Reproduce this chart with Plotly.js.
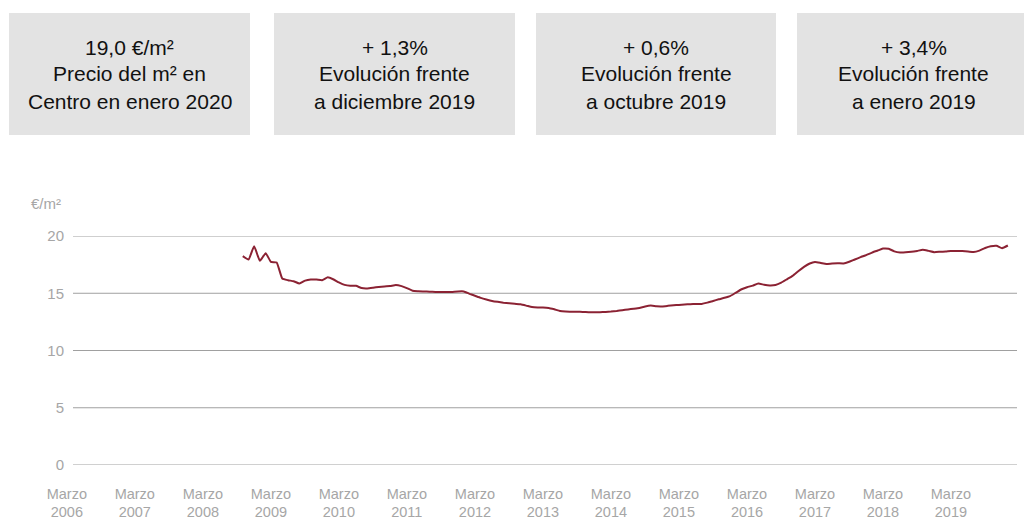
<!DOCTYPE html>
<html>
<head>
<meta charset="utf-8">
<script src="https://cdn.plot.ly/plotly-3.0.1.min.js"></script>
<style>
html,body{margin:0;padding:0;background:#fff;}
#chart{width:1024px;height:521px;}
</style>
</head>
<body>
<div id="chart"></div>
<script>
// ---- DATA ----
const firstMonth = '2008-10'; // first monthly observation
const price2008 = [18.24, 17.95, 19.10];
const price2009 = [17.83, 18.50, 17.74, 17.69, 16.29, 16.14, 16.05, 15.85, 16.10, 16.20, 16.20, 16.14];
const price2010 = [16.40, 16.20, 15.95, 15.73, 15.65, 15.65, 15.45, 15.42, 15.48, 15.55, 15.60, 15.63];
const price2011 = [15.72, 15.62, 15.45, 15.22, 15.18, 15.16, 15.14, 15.12, 15.10, 15.10, 15.12, 15.16];
const price2012 = [15.16, 14.95, 14.78, 14.60, 14.46, 14.33, 14.25, 14.18, 14.13, 14.08, 14.03, 13.92];
const price2013 = [13.79, 13.76, 13.76, 13.72, 13.60, 13.45, 13.40, 13.39, 13.38, 13.37, 13.35, 13.35];
const price2014 = [13.35, 13.37, 13.40, 13.45, 13.52, 13.59, 13.65, 13.72, 13.85, 13.92, 13.86, 13.85];
const price2015 = [13.90, 13.95, 13.98, 14.02, 14.05, 14.06, 14.07, 14.18, 14.33, 14.47, 14.60, 14.75];
const price2016 = [15.05, 15.35, 15.52, 15.67, 15.85, 15.74, 15.68, 15.72, 15.93, 16.22, 16.52, 16.92];
const price2017 = [17.30, 17.60, 17.74, 17.65, 17.55, 17.60, 17.62, 17.60, 17.75, 17.95, 18.15, 18.33];
const price2018 = [18.55, 18.73, 18.90, 18.88, 18.66, 18.56, 18.57, 18.62, 18.70, 18.79, 18.70, 18.59];
const price2019 = [18.62, 18.65, 18.69, 18.70, 18.68, 18.65, 18.60, 18.72, 18.95, 19.10, 19.14, 18.94];
const price2020 = [19.17];

const tickYears = ['2006','2007','2008','2009','2010','2011','2012','2013','2014','2015','2016','2017','2018','2019'];
const tickMonthLabel = 'Marzo';
const yTicks = [0, 5, 10, 15, 20];
const yUnit = '€/m²';

const kpiBoxes = [
  ['19,0 €/m²', 'Precio del m² en', 'Centro en enero 2020'],
  ['+ 1,3%', 'Evolución frente', 'a diciembre 2019'],
  ['+ 0,6%', 'Evolución frente', 'a octubre 2019'],
  ['+ 3,4%', 'Evolución frente', 'a enero 2019']
];

// ---- BUILD SERIES ----
const price = [].concat(price2008, price2009, price2010, price2011, price2012, price2013,
  price2014, price2015, price2016, price2017, price2018, price2019, price2020);
const dates = [];
{
  let [yy, mm] = firstMonth.split('-').map(Number);
  for (let i = 0; i < price.length; i++) {
    dates.push(yy + '-' + String(mm).padStart(2, '0') + '-01');
    mm++; if (mm > 12) { mm = 1; yy++; }
  }
}

// ---- LAYOUT HELPERS (pixel -> paper) ----
const W = 1024, H = 521;
const ML = 40, MR = 7, MT = 236, MB = 56;
const PW = W - ML - MR, PH = H - MT - MB;
const px = x => (x - ML) / PW;
const py = y => (H - MB - y) / PH;

const FONT = 'Liberation Sans, Arial, Helvetica, sans-serif';
const GRAY = '#a6a6a6';

const shapes = [];
const annotations = [];

// gridlines
yTicks.forEach(v => {
  shapes.push({type: 'line', xref: 'paper', yref: 'y', x0: px(73), x1: 1, y0: v, y1: v,
    line: {color: '#a0a0a0', width: 1}, layer: 'below'});
});

// KPI boxes
const boxX = [[9, 250], [274, 515], [536, 776], [797, 1030]];
kpiBoxes.forEach((lines, i) => {
  const [x0, x1] = boxX[i];
  shapes.push({type: 'rect', xref: 'paper', yref: 'paper', x0: px(x0), x1: px(x1), y0: py(135), y1: py(13),
    fillcolor: '#e3e3e3', line: {width: 0}, layer: 'below'});
  const cx = (x0 + x1) / 2;
  const lineY = [47, 74, 101];
  lines.forEach((t, j) => {
    annotations.push({xref: 'paper', yref: 'paper', x: px(cx), y: py(lineY[j]), xanchor: 'center', yanchor: 'middle',
      text: t, showarrow: false, font: {family: FONT, size: 21, color: '#111111'}});
  });
});

// unit label
annotations.push({xref: 'paper', yref: 'paper', x: px(63), y: py(204), xanchor: 'right', yanchor: 'middle',
  text: yUnit, showarrow: false, font: {family: FONT, size: 15, color: GRAY}});

const trace = {
  x: dates, y: price, type: 'scatter', mode: 'lines',
  line: {color: '#8b2233', width: 2, shape: 'spline', smoothing: 0.4},
  hoverinfo: 'x+y'
};

const layout = {
  width: W, height: H,
  margin: {l: ML, r: MR, t: MT, b: MB, pad: 0},
  paper_bgcolor: '#fff', plot_bgcolor: 'rgba(0,0,0,0)',
  showlegend: false,
  font: {family: FONT, color: GRAY, size: 15},
  xaxis: {
    type: 'date', range: ['2005-10-08', '2020-02-19'],
    tickmode: 'array',
    tickvals: tickYears.map(y => y + '-03-01'),
    ticktext: tickYears.map(y => tickMonthLabel + '<br>' + y),
    showgrid: false, zeroline: false, showline: false, ticks: '',
    tickfont: {family: FONT, size: 14.5, color: GRAY},
    ticklabelstandoff: 18
  },
  yaxis: {
    range: [0, 20], anchor: 'free', position: px(73),
    tickmode: 'array', tickvals: yTicks, ticktext: yTicks.map(String),
    showgrid: false, zeroline: false, showline: false, ticks: '',
    tickfont: {family: FONT, size: 15, color: GRAY},
    ticklabelstandoff: 9
  },
  shapes: shapes,
  annotations: annotations
};

Plotly.newPlot('chart', [trace], layout, {displayModeBar: false, staticPlot: true});
</script>
</body>
</html>
